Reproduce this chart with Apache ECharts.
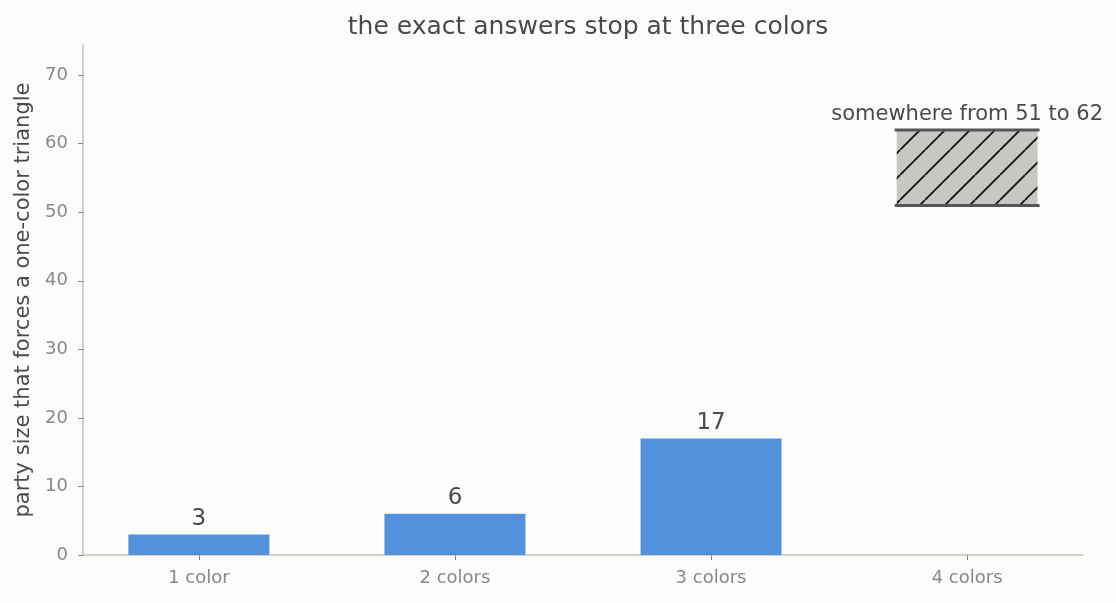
<!DOCTYPE html>
<html>
<head>
	<meta charset="utf-8">
	<title>three colors</title>
	<style>
		html, body { margin: 0; padding: 0; background: #fcfcfb; }
	</style>
</head>

<body>
	<div style="width:1116px;height:603px;" id="chart1"></div>

	<script src="https://cdn.jsdelivr.net/npm/echarts@6/dist/echarts.min.js"></script>
	<script>

	var categories = ['1 color', '2 colors', '3 colors', '4 colors'];
	var exactValues = [3, 6, 17];
	// the open case: lower and upper bound for 4 colors
	var rangeIndex = 3;
	var rangeLow = 51;
	var rangeHigh = 62;
	var rangeLabel = 'somewhere from 51 to 62';
	var yTicks = [0, 10, 20, 30, 40, 50, 60, 70];

	var BAR_W = 0.55;

	// hatch pattern for the range box
	function makeHatch() {
		var size = 25;
		var c = document.createElement('canvas');
		c.width = size;
		c.height = size;
		var ctx = c.getContext('2d');
		ctx.fillStyle = '#c9c7c3';
		ctx.fillRect(0, 0, size, size);
		ctx.strokeStyle = '#111';
		ctx.lineWidth = 1.8;
		ctx.beginPath();
		for (var k = -1; k <= 1; k++) {
			ctx.moveTo(k * size, size);
			ctx.lineTo(k * size + size, 0);
		}
		ctx.stroke();
		return c;
	}

	var barData = exactValues.map(function (v, i) { return [i, v]; });
	var catIdx = categories.map(function (c, i) { return i; });

	var myChart = echarts.init(document.getElementById('chart1'));
	var hatch = makeHatch();

	var option = {
		backgroundColor: '#fcfcfb',
		textStyle: { fontFamily: 'DejaVu Sans' },
		title: {
			text: 'the exact answers stop at three colors',
			left: 583,
			top: 10,
			textAlign: 'center',
			textStyle: { fontSize: 25, fontWeight: 'normal', color: '#4a4a4a', fontFamily: 'DejaVu Sans' }
		},
		grid: { left: 83, right: 33, top: 45, bottom: 48, containLabel: false },
		xAxis: {
			type: 'value',
			min: -0.4525,
			max: 3.4525,
			splitLine: { show: false },
			axisLine: { show: true, onZero: false, lineStyle: { color: '#c2c0b9', width: 1.5 } },
			axisTick: { show: true, customValues: catIdx, length: 5, lineStyle: { color: '#888' } },
			axisLabel: {
				customValues: catIdx,
				color: '#888', fontSize: 18, margin: 14,
				formatter: function (v) { return categories[Math.round(v)]; }
			}
		},
		yAxis: {
			type: 'value',
			min: 0,
			max: 74.4,
			name: 'party size that forces a one-color triangle',
			nameLocation: 'middle',
			nameGap: 40,
			nameTextStyle: { fontSize: 21, color: '#4a4a4a' },
			splitLine: { show: false },
			axisLine: { show: true, onZero: false, lineStyle: { color: '#c2c0b9', width: 1.5 } },
			axisTick: { show: true, customValues: yTicks, length: 5, lineStyle: { color: '#888' } },
			axisLabel: { customValues: yTicks, color: '#888', fontSize: 18, margin: 15 }
		},
		series: [{
			type: 'bar',
			data: barData,
			barWidth: 141,
			itemStyle: { color: '#5391dd' },
			label: {
				show: true, position: 'top', fontSize: 23, color: '#4a4a4a', distance: 4,
				formatter: function (p) { return p.value[1]; }
			}
		}, {
			type: 'custom',
			data: [[rangeIndex, rangeLow, rangeHigh]],
			encode: { x: 0, y: [1, 2] },
			z: 3,
			renderItem: function (params, api) {
				var lo = api.coord([api.value(0), api.value(1)]);
				var hi = api.coord([api.value(0), api.value(2)]);
				var w = api.size([BAR_W, 0])[0];
				var x0 = lo[0] - w / 2;
				return {
					type: 'group',
					children: [{
						type: 'rect',
						shape: { x: x0, y: hi[1], width: w, height: lo[1] - hi[1] },
						style: { fill: { image: hatch, repeat: 'repeat' } }
					}, {
						type: 'line',
						shape: { x1: x0 - 2, y1: hi[1], x2: x0 + w + 2, y2: hi[1] },
						style: { stroke: '#555', lineWidth: 3 }
					}, {
						type: 'line',
						shape: { x1: x0 - 2, y1: lo[1], x2: x0 + w + 2, y2: lo[1] },
						style: { stroke: '#555', lineWidth: 3 }
					}, {
						type: 'text',
						style: {
							x: lo[0], y: hi[1] - 5,
							text: rangeLabel,
							align: 'center', verticalAlign: 'bottom',
							fontSize: 21, fill: '#4a4a4a', fontFamily: 'DejaVu Sans'
						}
					}]
				};
			}
		}]
	};

	myChart.setOption(option);
	</script>
</body>

</html>
